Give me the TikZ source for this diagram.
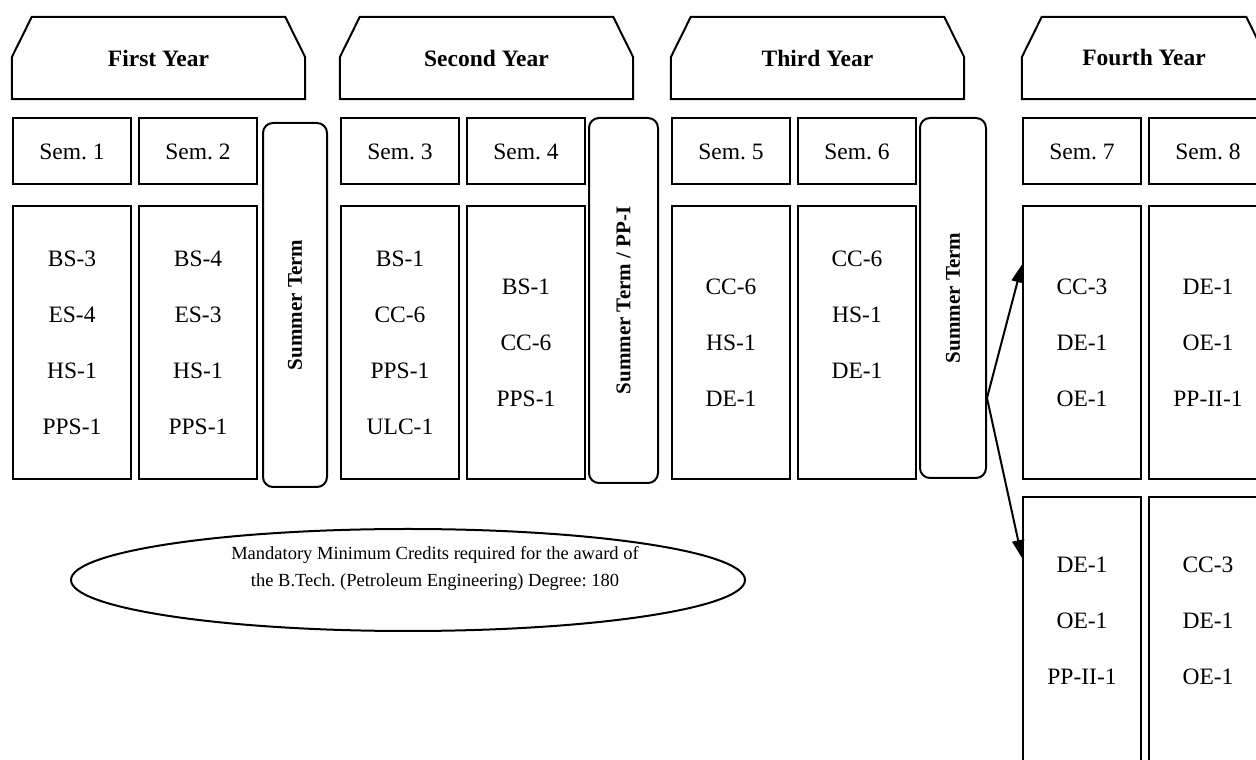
\documentclass[tikz,border=0pt]{standalone}
\usepackage{fontspec}
\setmainfont{Liberation Serif}
\usetikzlibrary{positioning, shapes.geometric, arrows.meta}

\tikzset{
    yearhead/.style={minimum width=293pt, minimum height=82pt, inner sep=0pt, font=\fontsize{23.5}{28}\bfseries},
    chamfer/.style={line width=2pt, line join=miter},
    semhead/.style={draw, line width=2pt, minimum width=118pt, minimum height=66pt, inner sep=0pt, font=\fontsize{23.5}{28}\selectfont},
    courses/.style={draw, line width=2pt, minimum width=118pt, minimum height=273pt, inner sep=0pt, align=center, font=\fontsize{23.5}{56}\selectfont},
    summer/.style={draw, line width=2pt, rounded corners=10pt, rotate=90, inner sep=0pt, font=\fontsize{21}{25}\bfseries},
    arr/.style={line width=2pt, -{Triangle[length=18pt, width=12pt]}},
}

\begin{document}
\frenchspacing
\begin{tikzpicture}[x=1pt, y=1pt]
        \useasboundingbox (0,0) rectangle (1256,760);
        \clip (0,0) rectangle (1256,760);
        \begin{scope}[xshift=0pt]
            \node[yearhead] (yr1) at (158.5,702) {First Year};
            \draw[chamfer] (yr1.south west) -- ([yshift=42pt]yr1.south west) -- ([xshift=20pt]yr1.north west) -- ([xshift=-20pt]yr1.north east) -- ([yshift=42pt]yr1.south east) -- (yr1.south east) -- cycle;
            \node[semhead] (s1) at (72,608.5) {Sem. 1};
            \node[semhead, right=6pt of s1] (s2) {Sem. 2};
            \node[courses, below=19.5pt of s1] (c1) {BS-3\\ES-4\\HS-1\\PPS-1};
            \node[courses, below=19.5pt of s2] (c2) {BS-4\\ES-3\\HS-1\\PPS-1};
            \node[summer, minimum width=364pt, minimum height=64pt] (sum1) at (295,455) {Summer Term};
        \end{scope}

        \begin{scope}[xshift=328pt]
            \node[yearhead] (yr2) at (158.5,702) {Second Year};
            \draw[chamfer] (yr2.south west) -- ([yshift=42pt]yr2.south west) -- ([xshift=20pt]yr2.north west) -- ([xshift=-20pt]yr2.north east) -- ([yshift=42pt]yr2.south east) -- (yr2.south east) -- cycle;
            \node[semhead] (s3) at (72,608.5) {Sem. 3};
            \node[semhead, right=6pt of s3] (s4) {Sem. 4};
            \node[courses, below=19.5pt of s3] (c3) {BS-1\\CC-6\\PPS-1\\ULC-1};
            \node[courses, below=19.5pt of s4] (c4) {BS-1\\CC-6\\PPS-1};
            \node[summer, minimum width=365pt, minimum height=69pt] (sum2) at (295.5,459.5) {Summer Term / PP-I};
        \end{scope}

        \begin{scope}[xshift=659pt]
            \node[yearhead] (yr3) at (158.5,702) {Third Year};
            \draw[chamfer] (yr3.south west) -- ([yshift=42pt]yr3.south west) -- ([xshift=20pt]yr3.north west) -- ([xshift=-20pt]yr3.north east) -- ([yshift=42pt]yr3.south east) -- (yr3.south east) -- cycle;
            \node[semhead] (s5) at (72,608.5) {Sem. 5};
            \node[semhead, right=6pt of s5] (s6) {Sem. 6};
            \node[courses, below=19.5pt of s5] (c5) {CC-6\\HS-1\\DE-1};
            \node[courses, below=19.5pt of s6] (c6) {CC-6\\HS-1\\DE-1\\\phantom{DE-1}};
            \node[summer, minimum width=360pt, minimum height=66pt] (sum3) at (294,462) {Summer Term};
        \end{scope}

        \begin{scope}[xshift=1010pt]
            \node[yearhead, minimum width=244pt] (yr4) at (134,702) {Fourth Year};
            \draw[chamfer] (yr4.south west) -- ([yshift=42pt]yr4.south west) -- ([xshift=20pt]yr4.north west) -- ([xshift=-20pt]yr4.north east) -- ([yshift=42pt]yr4.south east) -- (yr4.south east) -- cycle;
            \node[semhead] (s7) at (72,608.5) {Sem. 7};
            \node[semhead, right=6pt of s7] (s8) {Sem. 8};
            \node[courses, below=19.5pt of s7] (c7) {CC-3\\DE-1\\OE-1};
            \node[courses, below=19.5pt of s8] (c8) {DE-1\\OE-1\\PP-II-1};
            \node[courses, below=16pt of c7, minimum height=304pt] (c7b) {DE-1\\OE-1\\PP-II-1\\\phantom{DE-1}};
            \node[courses, below=16pt of c8, minimum height=304pt] (c8b) {CC-3\\DE-1\\OE-1\\\phantom{DE-1}};
        \end{scope}

        \draw[arr] ([yshift=-100pt]sum3.south) -- ([yshift=78pt]c7.west);
        \draw[arr] ([yshift=-100pt]sum3.south) -- ([yshift=91pt]c7b.west);

        \node[ellipse, draw, line width=2pt, minimum width=674pt, minimum height=102pt] (goal) at (408,180) {};
        \node[align=center, font=\fontsize{18.5}{27}\selectfont] (goaltext) at (435,192) {Mandatory Minimum Credits required for the award of\\the B.Tech. (Petroleum Engineering) Degree: 180};
    \end{tikzpicture}
\end{document}
